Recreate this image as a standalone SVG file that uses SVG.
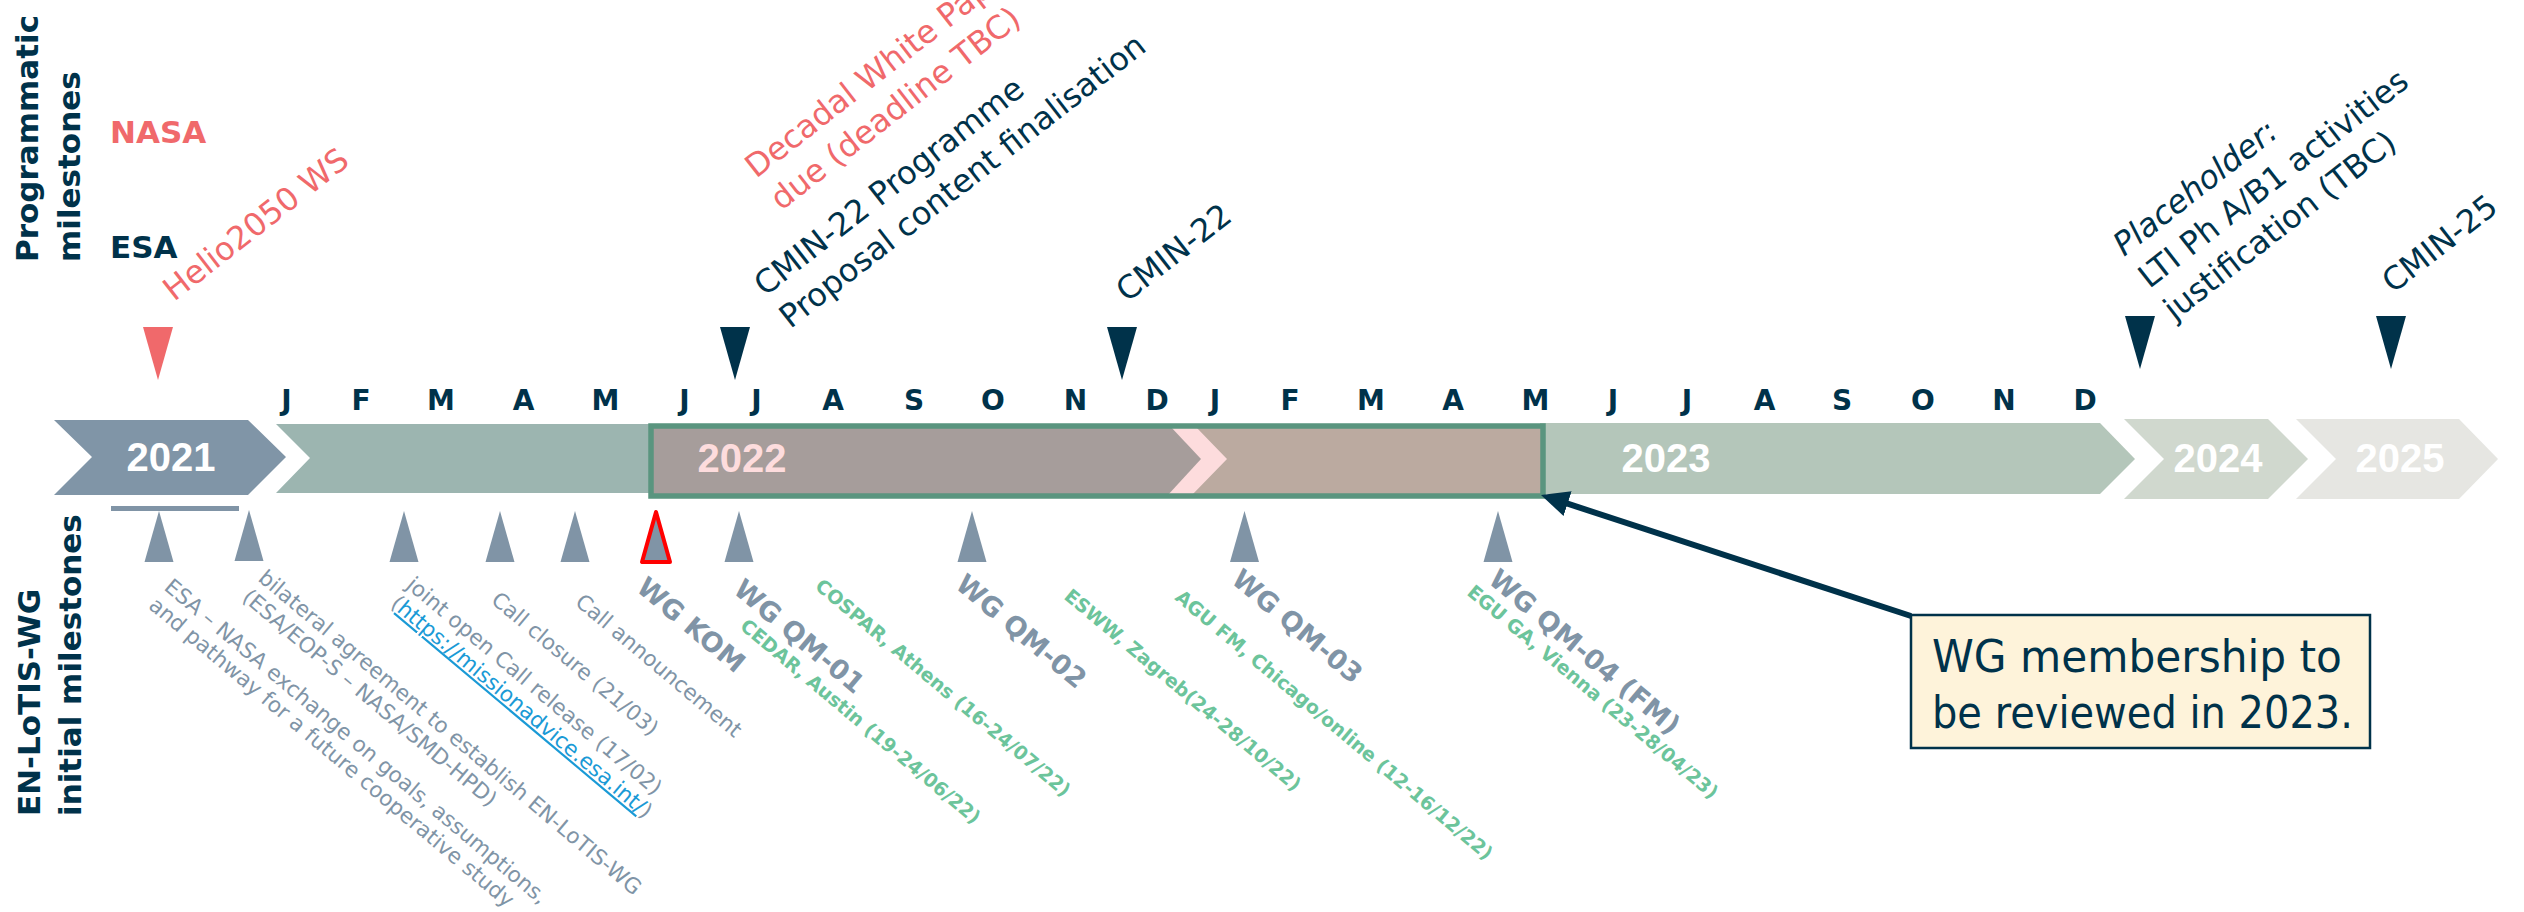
<svg xmlns="http://www.w3.org/2000/svg" width="2524" height="912" viewBox="0 0 2524 912">
<style>
  .mon{font-family:"DejaVu Sans",Verdana,sans-serif;font-weight:bold;font-size:28px;fill:#00324A;text-anchor:middle}
  .yr{font-family:"Liberation Sans",Arial,sans-serif;font-weight:bold;font-size:40px;text-anchor:middle}
  .side{font-family:"DejaVu Sans",Verdana,sans-serif;font-weight:bold;font-size:31px}
  .top{font-family:"DejaVu Sans",Verdana,sans-serif;font-size:32px}
  .nav{fill:#00324A}
  .red{fill:#F0696B}
  .ev{font-family:"DejaVu Sans",Verdana,sans-serif;font-size:21.5px;fill:#8094A6}
  .wg{font-family:"DejaVu Sans",Verdana,sans-serif;font-weight:bold;font-size:27px;fill:#8094A6}
  .conf{font-family:"DejaVu Sans",Verdana,sans-serif;font-weight:bold;font-size:19px;fill:#6CC49B}
  .link{fill:#1A9AD6;text-decoration:underline}
  .call{font-family:"DejaVu Sans",Verdana,sans-serif;font-size:45px;fill:#00324A}
</style>
<defs>
  <polygon id="tu" points="0,0 14.5,51 -14.5,51"/>
  <polygon id="td" points="-15,0 15,0 0,53"/>
  <marker id="ah" markerUnits="userSpaceOnUse" markerWidth="30" markerHeight="30" viewBox="0 0 30 30" refX="8" refY="15" orient="auto">
    <path d="M0,2 L28,15 L0,28 z" fill="#00324A"/>
  </marker>
</defs>
<rect width="2524" height="912" fill="#FFFFFF"/>

<g id="side-labels">
  <text class="side nav" transform="translate(38,262) rotate(-90)"><tspan x="0" y="0">Programmatic</tspan><tspan x="0" y="42">milestones</tspan></text>
  <text class="side nav" transform="translate(40,816) rotate(-90)"><tspan x="0" y="0">EN-LoTIS-WG</tspan><tspan x="0" y="41">initial milestones</tspan></text>
  <text class="side red" x="110" y="143">NASA</text>
  <text class="side nav" x="110" y="258">ESA</text>
</g>

<g id="timeline">
  <polygon points="54,420 248,420 286,457 248,495 54,495 92,457" fill="#8095A7"/>
  <polygon points="276,424 655,424 655,493 276,493 310,458" fill="#9CB5B0"/>
  <polygon points="1540,423 2100,423 2135,459 2100,494 1540,494" fill="#B4C6BA"/>
  <polygon points="2124,419 2268,419 2308,459 2268,499 2124,499 2164,459" fill="#D0D8CE"/>
  <polygon points="2296,419 2459,419 2498,459 2459,499 2296,499 2336,459" fill="#E6E6E2"/>
  <rect x="111" y="506" width="128" height="5" fill="#8094A6"/>
  <text class="yr" x="171" y="471" fill="#FFFFFF">2021</text>
  <text class="yr" x="1666" y="472" fill="#FFFFFF">2023</text>
  <text class="yr" x="2218" y="472" fill="#FFFFFF">2024</text>
  <text class="yr" x="2400" y="472" fill="#FFFFFF">2025</text>
</g>

<g id="box-2022">
  <rect x="651" y="426" width="892" height="70" fill="#FDDCDD"/>
  <polygon points="651,426 1170,426 1201,459 1167,496 651,496" fill="#A69D9B"/>
  <polygon points="1195,426 1543,426 1543,496 1191,496 1227,459" fill="#BBAAA0"/>
  <rect x="651" y="426" width="892" height="70" fill="none" stroke="#5A957F" stroke-width="5.5"/>
  <text class="yr" x="742" y="472" fill="#FDDCDD">2022</text>
</g>

<g id="months">
  <text class="mon" x="286.5" y="410">J</text>
  <text class="mon" x="361" y="410">F</text>
  <text class="mon" x="441" y="410">M</text>
  <text class="mon" x="523.5" y="410">A</text>
  <text class="mon" x="605.5" y="410">M</text>
  <text class="mon" x="684.5" y="410">J</text>
  <text class="mon" x="756.5" y="410">J</text>
  <text class="mon" x="833" y="410">A</text>
  <text class="mon" x="914" y="410">S</text>
  <text class="mon" x="993" y="410">O</text>
  <text class="mon" x="1075.5" y="410">N</text>
  <text class="mon" x="1157" y="410">D</text>
  <text class="mon" x="1215" y="410">J</text>
  <text class="mon" x="1290" y="410">F</text>
  <text class="mon" x="1371" y="410">M</text>
  <text class="mon" x="1453" y="410">A</text>
  <text class="mon" x="1535.5" y="410">M</text>
  <text class="mon" x="1613" y="410">J</text>
  <text class="mon" x="1687" y="410">J</text>
  <text class="mon" x="1764.5" y="410">A</text>
  <text class="mon" x="1842" y="410">S</text>
  <text class="mon" x="1923" y="410">O</text>
  <text class="mon" x="2004" y="410">N</text>
  <text class="mon" x="2085" y="410">D</text>
</g>

<g id="ms-helio">
  <use href="#td" x="158" y="327" fill="#F0696B"/>
  <text class="top red" transform="translate(174,302) rotate(-38)">Helio2050 WS</text>
</g>
<g id="ms-decadal">
  <text class="top red" transform="translate(756,179) rotate(-38)"><tspan x="0" y="0">Decadal White Paper</tspan><tspan x="0" y="41">due (deadline TBC)</tspan></text>
</g>
<g id="ms-cmin22-prog">
  <use href="#td" x="735" y="327" fill="#00324A"/>
  <text class="top nav" transform="translate(765,297) rotate(-38)"><tspan x="0" y="0">CMIN-22 Programme</tspan><tspan x="0" y="41">Proposal content finalisation</tspan></text>
</g>
<g id="ms-cmin22">
  <use href="#td" x="1122" y="327" fill="#00324A"/>
  <text class="top nav" transform="translate(1127,303) rotate(-38)">CMIN-22</text>
</g>
<g id="ms-lti">
  <use href="#td" x="2140" y="316" fill="#00324A"/>
  <text class="top nav" transform="translate(2124,257) rotate(-38)"><tspan x="0" y="0" font-style="italic">Placeholder:</tspan><tspan x="0" y="41">LTI Ph A/B1 activities</tspan><tspan x="0" y="82">justification (TBC)</tspan></text>
</g>
<g id="ms-cmin25">
  <use href="#td" x="2391" y="316" fill="#00324A"/>
  <text class="top nav" transform="translate(2393,294) rotate(-38)">CMIN-25</text>
</g>

<g id="wg-exchange">
  <use href="#tu" x="159" y="511" fill="#8094A6"/>
  <text class="ev" transform="translate(163,589) rotate(40)"><tspan x="0" y="0">ESA – NASA exchange on goals, assumptions,</tspan><tspan x="0" y="24">and pathway for a future cooperative study</tspan></text>
</g>
<g id="wg-bilateral">
  <use href="#tu" x="249" y="510" fill="#8094A6"/>
  <text class="ev" transform="translate(257,580) rotate(40)"><tspan x="0" y="0">bilateral agreement to establish EN-LoTIS-WG</tspan><tspan x="0" y="25">(ESA/EOP-S – NASA/SMD-HPD)</tspan></text>
</g>
<g id="wg-release">
  <use href="#tu" x="404" y="511" fill="#8094A6"/>
  <text class="ev" transform="translate(405,587) rotate(40)"><tspan x="0" y="0">joint open Call release (17/02)</tspan><tspan x="0" y="24">(<tspan class="link">https://missionadvice.esa.int/</tspan>)</tspan></text>
</g>
<g id="wg-closure">
  <use href="#tu" x="500" y="511" fill="#8094A6"/>
  <text class="ev" transform="translate(490,602) rotate(40)">Call closure (21/03)</text>
</g>
<g id="wg-announcement">
  <use href="#tu" x="575" y="511" fill="#8094A6"/>
  <text class="ev" transform="translate(574,604) rotate(40)">Call announcement</text>
</g>
<g id="wg-kom">
  <polygon points="656,512 642,562 670,562" fill="#8094A6" stroke="#FF0000" stroke-width="4" stroke-linejoin="round"/>
  <text class="wg" transform="translate(635,590) rotate(40)">WG KOM</text>
</g>
<g id="wg-qm01">
  <use href="#tu" x="739" y="511" fill="#8094A6"/>
  <text class="wg" transform="translate(732,592) rotate(40)">WG QM-01</text>
  <text class="conf" transform="translate(739,628) rotate(40)">CEDAR, Austin (19-24/06/22)</text>
</g>
<g id="ev-cospar">
  <text class="conf" transform="translate(814,588) rotate(40)">COSPAR, Athens (16-24/07/22)</text>
</g>
<g id="wg-qm02">
  <use href="#tu" x="972" y="511" fill="#8094A6"/>
  <text class="wg" transform="translate(954,587) rotate(40)">WG QM-02</text>
</g>
<g id="ev-esww">
  <text class="conf" transform="translate(1063,598) rotate(40)">ESWW, Zagreb(24-28/10/22)</text>
</g>
<g id="ev-agu">
  <text class="conf" transform="translate(1174,599) rotate(40)">AGU FM, Chicago/online (12-16/12/22)</text>
</g>
<g id="wg-qm03">
  <use href="#tu" x="1244.5" y="511" fill="#8094A6"/>
  <text class="wg" transform="translate(1230,582) rotate(40)">WG QM-03</text>
</g>
<g id="wg-qm04">
  <use href="#tu" x="1498" y="511" fill="#8094A6"/>
  <text class="wg" transform="translate(1487,582) rotate(40)">WG QM-04 (FM)</text>
  <text class="conf" transform="translate(1466,594) rotate(40)">EGU GA, Vienna (23-28/04/23)</text>
</g>

<g id="connectors">
  <line x1="1911" y1="616" x2="1560" y2="501.2" stroke="#00324A" stroke-width="6" marker-end="url(#ah)"/>
</g>

<g id="callout">
  <rect x="1911" y="615" width="459" height="133" fill="#FEF3DA" stroke="#00324A" stroke-width="2.5"/>
  <text class="call" x="1932" y="672" textLength="410" lengthAdjust="spacingAndGlyphs">WG membership to</text>
  <text class="call" x="1932" y="728" textLength="421" lengthAdjust="spacingAndGlyphs">be reviewed in 2023.</text>
</g>
</svg>
